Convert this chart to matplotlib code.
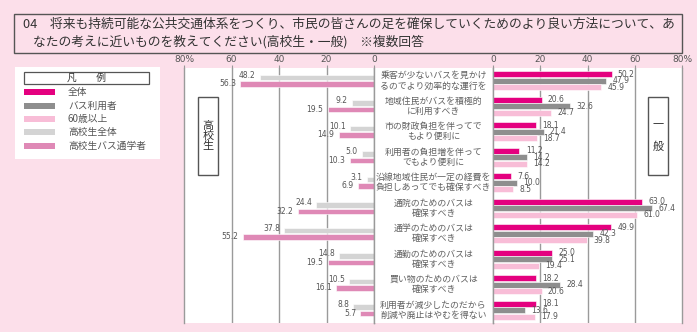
import matplotlib
matplotlib.use("Agg")
import matplotlib.pyplot as plt
from matplotlib.patches import Rectangle
import numpy as np

plt.rcParams['font.family'] = ['Noto Sans CJK JP', 'DejaVu Sans']

# ---------------- data ----------------
categories = [
    "乗客が少ないバスを見かけ\nるのでより効率的な運行を",
    "地域住民がバスを積極的\nに利用すべき",
    "市の財政負担を伴ってで\nもより便利に",
    "利用者の負担増を伴って\nでもより便利に",
    "沿線地域住民が一定の経費を\n負担しあってでも確保すべき",
    "通院のためのバスは\n確保すべき",
    "通学のためのバスは\n確保すべき",
    "通勤のためのバスは\n確保すべき",
    "買い物のためのバスは\n確保すべき",
    "利用者が減少したのだから\n削減や廃止はやむを得ない",
]
hs_all = [48.2, 9.2, 10.1, 5.0, 3.1, 24.4, 37.8, 14.8, 10.5, 8.8]      # 高校生全体
hs_bus = [56.3, 19.5, 14.9, 10.3, 6.9, 32.2, 55.2, 19.5, 16.1, 5.7]    # 高校生バス通学者
gen_all = [50.2, 20.6, 18.1, 11.2, 7.6, 63.0, 49.9, 25.0, 18.2, 18.1]  # 全体
gen_bus = [47.9, 32.6, 21.4, 14.2, 10.0, 67.4, 42.3, 25.1, 28.4, 13.6] # バス利用者
gen_60 = [45.9, 24.7, 18.7, 14.2, 8.5, 61.0, 39.8, 19.4, 20.6, 17.9]   # 60歳以上

left_ticks = [80, 60, 40, 20, 0]
left_ticklabels = ["80%", "60", "40", "20", "0"]
right_ticks = [0, 20, 40, 60, 80]
right_ticklabels = ["0", "20", "40", "60", "80%"]

legend_labels = ["全体", "バス利用者", "60歳以上", "高校生全体", "高校生バス通学者"]
legend_colors = ["#e4007f", "#8e8e8e", "#f8bdd7", "#d4d4d4", "#df89b6"]

title_line1 = "04　将来も持続可能な公共交通体系をつくり、市民の皆さんの足を確保していくためのより良い方法について、あ"
title_line2 = "なたの考えに近いものを教えてください(高校生・一般)　※複数回答"

# ---------------- layout ----------------
W, H = 697, 332
BG = "#fcdfea"
fig = plt.figure(figsize=(W / 100, H / 100), dpi=100, facecolor=BG)

def fx(px):
    return px / W

def fy(py):
    return 1 - py / H

top, bottom = 68, 323
ax_h = (bottom - top) / H
ax_b = fy(bottom)

axL = fig.add_axes([fx(184), ax_b, fx(374 - 184), ax_h])
axM = fig.add_axes([fx(374), ax_b, fx(493 - 374), ax_h])
axR = fig.add_axes([fx(493), ax_b, fx(682 - 493), ax_h])

n = len(categories)
y = np.arange(n) + 0.5
grid_c = "#9a9a9a"
txt_c = "#555555"
val_fs = 5.5

for ax in (axL, axM, axR):
    ax.set_facecolor("white")
    ax.set_ylim(n, 0)
    ax.set_yticks([])
    for s in ("top", "bottom"):
        ax.spines[s].set_visible(False)
    for s in ("left", "right"):
        ax.spines[s].set_color(grid_c)
        ax.spines[s].set_linewidth(1.0)

# left chart (高校生)
axL.set_xlim(80, 0)
for g in (20, 40, 60):
    axL.axvline(g, color=grid_c, lw=1.0, zorder=0)
hb = 0.22
axL.barh(y - 0.125, hs_all, height=hb, color=legend_colors[3], edgecolor="white", lw=0.4, zorder=2)
axL.barh(y + 0.125, hs_bus, height=hb, color=legend_colors[4], edgecolor="white", lw=0.4, zorder=2)
for yi, a, b in zip(y, hs_all, hs_bus):
    axL.annotate(f"{a:.1f}", (a, yi - 0.125), xytext=(-3, 1.5), textcoords="offset points",
                 ha="right", va="center", fontsize=val_fs, color=txt_c, family="DejaVu Sans")
    axL.annotate(f"{b:.1f}", (b, yi + 0.125), xytext=(-3, 0), textcoords="offset points",
                 ha="right", va="center", fontsize=val_fs, color=txt_c, family="DejaVu Sans")

axL.xaxis.tick_top()
axL.set_xticks(left_ticks)
axL.set_xticklabels(left_ticklabels)

# middle labels
axM.set_xlim(0, 1)
axM.set_xticks([])
for yi, c in zip(y, categories):
    axM.text(0.5, yi, c, ha="center", va="center", fontsize=6.4, color="#606060",
             linespacing=1.2)

# right chart (一般)
axR.set_xlim(0, 80)
for g in (20, 40, 60):
    axR.axvline(g, color=grid_c, lw=1.0, zorder=0)
rb = 0.24
off = [-0.25, 0.0, 0.25]
for vals, col, o in zip((gen_all, gen_bus, gen_60), legend_colors[:3], off):
    axR.barh(y + o, vals, height=rb, color=col, edgecolor="white", lw=0.4, zorder=2)
    for yi, v in zip(y, vals):
        axR.annotate(f"{v:.1f}", (v, yi + o), xytext=(4.5, 0), textcoords="offset points",
                     ha="left", va="center", fontsize=val_fs, color=txt_c, family="DejaVu Sans")
axR.xaxis.tick_top()
axR.set_xticks(right_ticks)
axR.set_xticklabels(right_ticklabels)

for ax in (axL, axR):
    ax.tick_params(axis="x", direction="out", length=2, width=0.8, color=grid_c,
                   labelsize=6.5, labelcolor=txt_c, pad=1)
    for t in ax.get_xticklabels():
        t.set_family("DejaVu Sans")

# group boxes
def vbox(x0, x1, y0, y1, text, lsp):
    fig.add_artist(Rectangle((fx(x0), fy(y1)), fx(x1 - x0), (y1 - y0) / H,
                             transform=fig.transFigure, facecolor="white",
                             edgecolor="#555555", lw=1.0, zorder=5))
    fig.text(fx((x0 + x1) / 2), fy((y0 + y1) / 2), text, ha="center", va="center",
             fontsize=8, color="#333333", linespacing=lsp, zorder=6)

vbox(198, 218, 97, 175, "高\n校\n生", 1.05)
vbox(648, 668, 97, 175, "一\n\n般", 1.05)

# title
fig.add_artist(Rectangle((fx(14), fy(53)), fx(682 - 14), (53 - 14) / H,
                         transform=fig.transFigure, facecolor="none",
                         edgecolor="#555555", lw=1.0))
fig.text(fx(23), fy(24), title_line1, ha="left", va="center", fontsize=9.2, color="#333333")
fig.text(fx(33), fy(42), title_line2, ha="left", va="center", fontsize=9.2, color="#333333")

# legend
axLg = fig.add_axes([fx(15), fy(159), fx(160 - 15), (159 - 67) / H])
axLg.set_xlim(15, 160)
axLg.set_ylim(159, 67)
axLg.set_facecolor("white")
axLg.set_xticks([])
axLg.set_yticks([])
for s in axLg.spines.values():
    s.set_visible(False)
axLg.add_patch(Rectangle((24, 72), 125, 12, facecolor="white", edgecolor="#555555", lw=0.9))
axLg.text(86.5, 78, "凡　　例", ha="center", va="center", fontsize=7, color="#333333")
ys = [92, 106, 119, 132, 146]
for yy, lab, col in zip(ys, legend_labels, legend_colors):
    axLg.add_patch(Rectangle((24, yy - 2.7), 31, 5.4, facecolor=col, edgecolor="none"))
    axLg.text(68, yy, lab, ha="left", va="center", fontsize=7, color=txt_c)

fig.savefig("out.png", dpi=100, facecolor=BG)
